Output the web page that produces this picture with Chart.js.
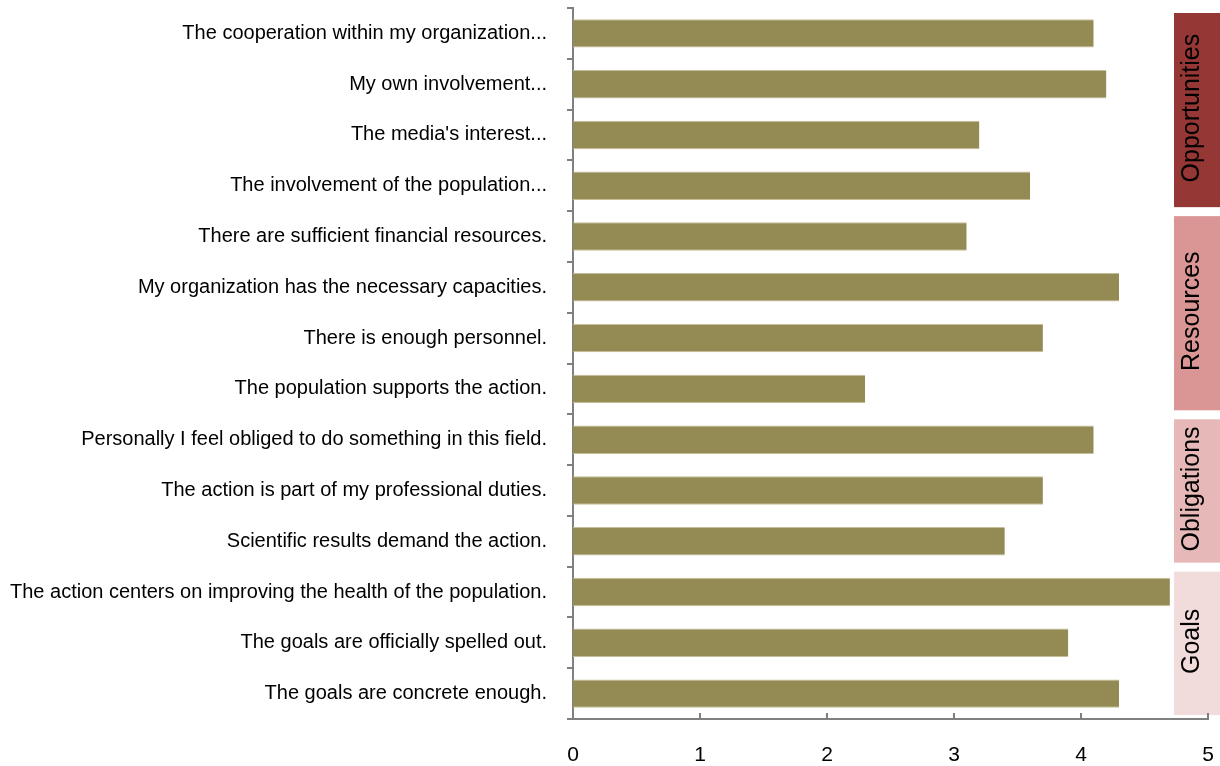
<!DOCTYPE html>
<html>
<head>
<meta charset="utf-8">
<script src="https://cdn.jsdelivr.net/npm/chart.js@4"></script>
<style>
  html, body { margin: 0; padding: 0; background: #fff; }
  #chart { display: block; }
</style>
</head>
<body>
<canvas id="chart" width="1220" height="766"></canvas>
<script>
// Statements, top to bottom
const statements = [
    'The cooperation within my organization...',
    'My own involvement...',
    "The media's interest...",
    'The involvement of the population...',
    'There are sufficient financial resources.',
    'My organization has the necessary capacities.',
    'There is enough personnel.',
    'The population supports the action.',
    'Personally I feel obliged to do something in this field.',
    'The action is part of my professional duties.',
    'Scientific results demand the action.',
    'The action centers on improving the health of the population.',
    'The goals are officially spelled out.',
    'The goals are concrete enough.',
];

// Mean rating per statement
const ratings = [4.1, 4.2, 3.2, 3.6, 3.1, 4.3, 3.7, 2.3, 4.1, 3.7, 3.4, 4.7, 3.9, 4.3];

// Groups of statements shown in the right-hand band
const groupNames  = ['Opportunities', 'Resources', 'Obligations', 'Goals'];
const groupSizes  = [4, 4, 3, 3];
const groupColors = ['#953735', '#d99694', '#e6b9b8', '#f2dcdb'];

const xTicks = [0, 1, 2, 3, 4, 5];

const AXIS = '#808080';
const BAR  = '#948a54';
const FONT = '"Liberation Sans", Arial, sans-serif';

// Coloured boxes with rotated group names, aligned to the category bands
const groupBands = {
    id: 'groupBands',
    afterDraw(chart) {
        const { ctx, scales: { y } } = chart;
        const half = (y.getPixelForValue(1) - y.getPixelForValue(0)) / 2;
        let start = 0;
        ctx.save();
        groupNames.forEach((name, i) => {
            const end = start + groupSizes[i] - 1;
            const top = y.getPixelForValue(start) - half + 5;
            const bottom = y.getPixelForValue(end) + half - 4;
            ctx.fillStyle = groupColors[i];
            ctx.fillRect(1174, top, 46, bottom - top);
            ctx.translate(1192, (top + bottom) / 2);
            ctx.rotate(-Math.PI / 2);
            ctx.fillStyle = '#000';
            ctx.font = '25px ' + FONT;
            ctx.textAlign = 'center';
            ctx.textBaseline = 'middle';
            ctx.fillText(name, 2, 0);
            ctx.setTransform(1, 0, 0, 1, 0, 0);
            start = end + 1;
        });
        ctx.restore();
    },
};

// Short tick marks pointing up from the value axis
const innerTicks = {
    id: 'innerTicks',
    afterDraw(chart) {
        const { ctx, scales: { x } } = chart;
        ctx.save();
        ctx.strokeStyle = AXIS;
        ctx.lineWidth = 2;
        xTicks.forEach((v) => {
            const px = Math.round(x.getPixelForValue(v));
            ctx.beginPath();
            ctx.moveTo(px, x.top - 6);
            ctx.lineTo(px, x.top);
            ctx.stroke();
        });
        ctx.restore();
    },
};

new Chart(document.getElementById('chart'), {
    type: 'bar',
    data: {
        labels: statements,
        datasets: [{
            data: ratings,
            backgroundColor: BAR,
            borderColor: '#c4bd97',
            borderWidth: { top: 1, bottom: 1, left: 0, right: 0 },
            borderSkipped: false,
            barPercentage: 0.56,
            categoryPercentage: 1,
        }],
    },
    options: {
        indexAxis: 'y',
        responsive: false,
        animation: false,
        layout: { padding: { top: 8, right: 12, left: 0, bottom: 0 } },
        plugins: { legend: { display: false }, tooltip: { enabled: false } },
        scales: {
            x: {
                min: 0,
                max: 5,
                afterBuildTicks(scale) {
                    scale.ticks = xTicks.map((v) => ({ value: v }));
                },
                afterFit(scale) {
                    scale.height = 47;
                    scale.paddingLeft = 0;
                    scale.paddingRight = 0;
                },
                border: { color: AXIS, width: 2 },
                grid: { display: false },
                ticks: {
                    color: '#000',
                    font: { family: FONT, size: 21 },
                    padding: 16,
                },
            },
            y: {
                afterFit(scale) {
                    scale.width = 573;
                    scale.paddingTop = 0;
                    scale.paddingBottom = 0;
                },
                border: { color: AXIS, width: 2 },
                grid: {
                    drawOnChartArea: false,
                    color: AXIS,
                    lineWidth: 2,
                    tickLength: 6,
                    offset: true,
                },
                ticks: {
                    color: '#000',
                    font: { family: FONT, size: 20 },
                    padding: 20,
                    autoSkip: false,
                },
            },
        },
    },
    plugins: [groupBands, innerTicks],
});
</script>
</body>
</html>
